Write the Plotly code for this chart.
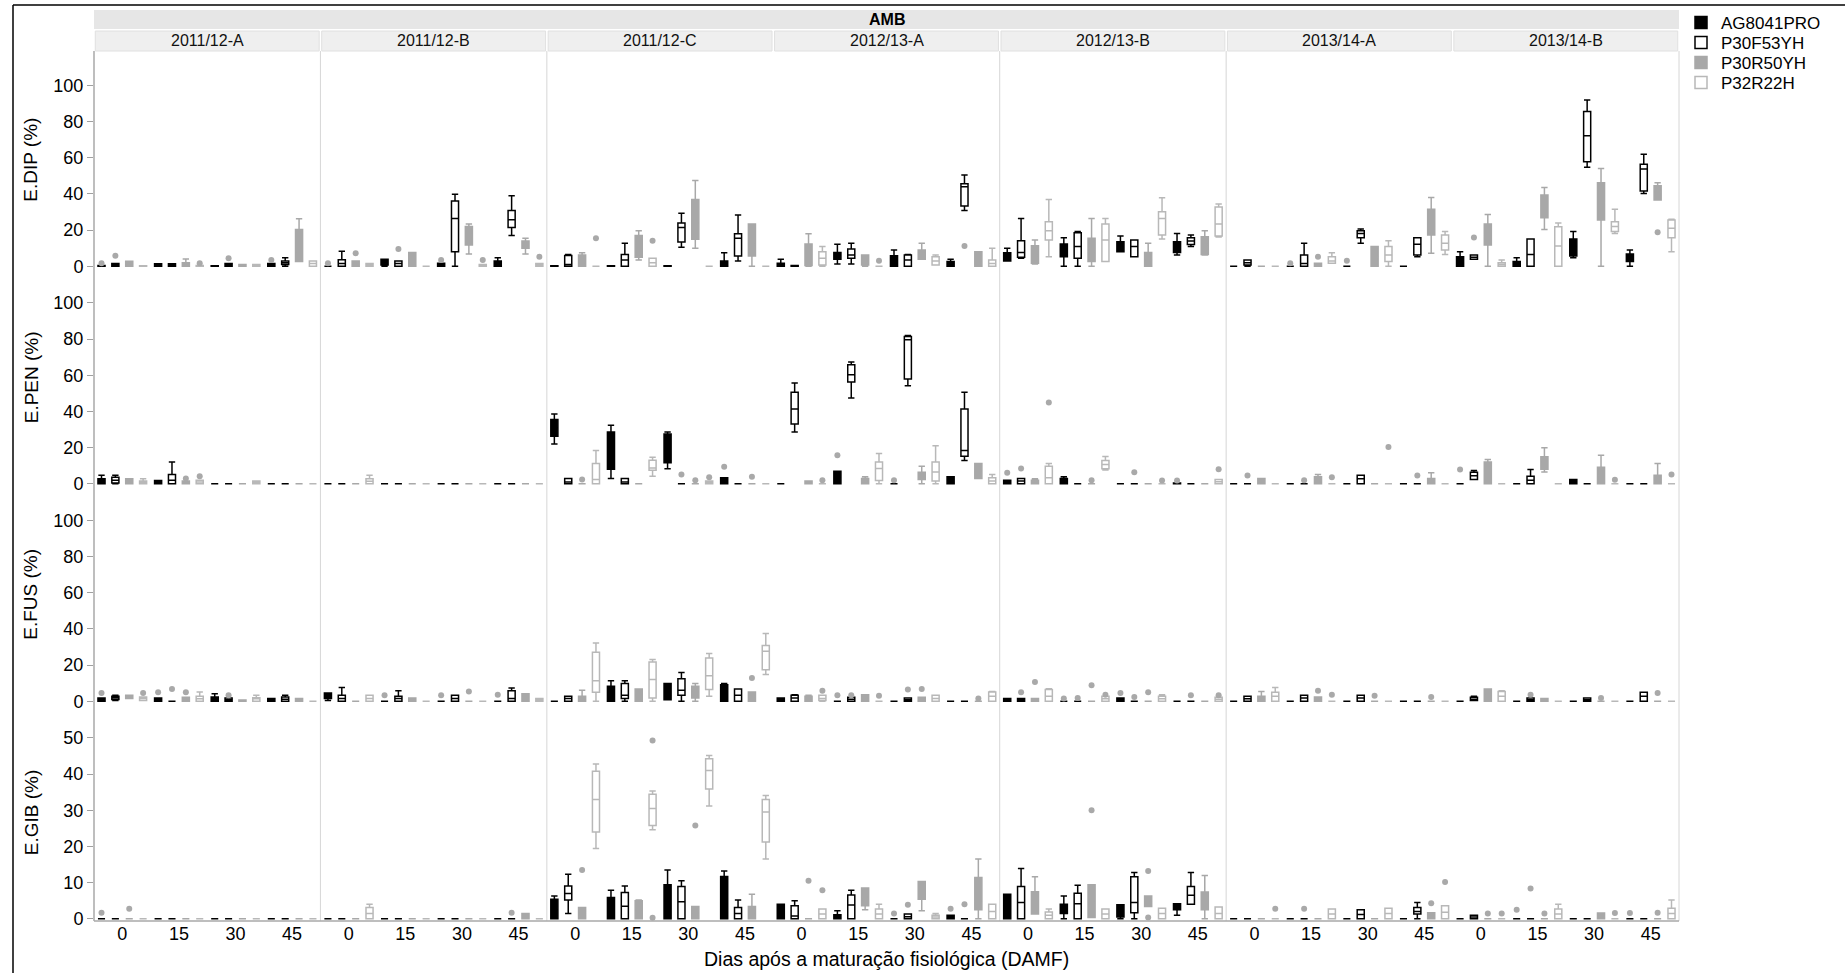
import plotly.graph_objects as go
from plotly.subplots import make_subplots

SEASONS = ["2011/12-A", "2011/12-B", "2011/12-C", "2012/13-A", "2012/13-B", "2013/14-A", "2013/14-B"]
DAYS = ["0", "15", "30", "45"]
GENOTYPES = ["AG8041PRO", "P30F53YH", "P30R50YH", "P32R22H"]
VARIABLES = ["E.DIP (%)", "E.PEN (%)", "E.FUS (%)", "E.GIB (%)"]
Y_TICKS = [[0, 20, 40, 60, 80, 100], [0, 20, 40, 60, 80, 100], [0, 20, 40, 60, 80, 100], [0, 10, 20, 30, 40, 50]]
HEADER = "AMB"
X_TITLE = "Dias após a maturação fisiológica (DAMF)"
Z = (0, 0, 0, 0, 0)

# (lowerfence, q1, median, q3, upperfence) ; 7 seasons x 4 days (0, 15, 30, 45)
DIP_AG8041PRO = [
    (0, 0, 0.2, 0.5, 0.5), (0, 0, 0.7, 1.4, 1.4), (0, 0, 0.1, 0.3, 0.3), (0, 0, 0.7, 1.5, 1.5),
    Z, (0, 0.7, 2, 3.9, 3.9), (0, 0, 0.8, 1.7, 1.7), (0, 0, 1.5, 3, 4.8),
    (0, 0, 0.1, 0.3, 0.3), (0, 0, 0.1, 0.3, 0.3), (0, 0, 0.1, 0.3, 0.3), (0, 0, 1.5, 3, 7.5),
    (0, 0, 0.8, 1.7, 3.9), (1.3, 3.9, 6.3, 7.7, 12.2), (0, 0, 3, 5.9, 9), (0, 0, 1.3, 2.6, 3.9),
    (3, 3, 5, 7.5, 10), (0, 5.3, 9, 12.3, 15.8), (8.1, 8.1, 11, 13.6, 16.8), (6.3, 7.7, 11, 13.6, 18.2),
    Z, Z, Z, Z,
    (0, 0, 2.5, 5.3, 8.1), (0, 0, 1.3, 2.6, 4.8), (4.8, 5.7, 11, 15.1, 19.2), (0, 2.6, 4.5, 6.8, 9),
]
DIP_P30F53YH = [
    (0, 0, 0.7, 1.5, 1.5), (0, 0, 0.7, 1.4, 1.4), (0, 0, 0.7, 1.5, 1.5), (0, 1, 2, 3, 4.8),
    (0, 0, 1.5, 3.7, 8.3), (0, 0, 1.5, 3, 3), (0, 8.1, 26.5, 36.1, 39.8), (17, 21.4, 25.8, 30.9, 39),
    (0, 0, 1, 6, 6.5), (0, 0, 3.5, 6.6, 12.7), (10.5, 13.4, 21.4, 24, 29.3), (3, 5.7, 15.5, 18, 28.4),
    (0, 0, 0.2, 0.5, 0.5), (1.3, 4.4, 6.3, 9.6, 12.7), (0, 0, 3.5, 6.3, 6.6), (30.8, 33.3, 44, 45.7, 50.5),
    (4.4, 5, 7.7, 14.2, 26.5), (0, 4.4, 10.9, 18.6, 19.2), (5.3, 5.3, 10.9, 14.5, 14.5), (10.9, 12.1, 14, 15.8, 17.3),
    (0, 0.7, 2, 3.5, 3.5), (0, 0, 1.5, 6.3, 12.7), (12.7, 15.8, 18.2, 19.7, 20.6), (5.3, 6.3, 12.2, 15.8, 15.8),
    (3.9, 3.9, 5, 6.3, 6.3), (0, 0, 6.6, 15.1, 15.1), (54.7, 57.8, 72.2, 85.5, 91.9), (40.3, 41.6, 53.8, 56.4, 61.9),
]
DIP_P30R50YH = [
    (0, 0, 1.5, 2.8, 2.8), (0, 0, 1, 2, 4), (0, 0, 0.5, 1, 1), (2.6, 2.6, 8, 20.4, 26.3),
    (0, 0, 1.5, 3, 3), (0, 0, 3.8, 7.7, 7.7), (6.8, 11.8, 17, 22, 23.4), (6.8, 10, 12, 14, 15.5),
    (0, 0, 2, 6.3, 7.5), (3.5, 5, 12, 17, 19.7), (10, 15, 24, 37, 47.5), (0, 5.7, 12, 23.4, 23.4),
    (0, 0.5, 6, 12.3, 18), (0, 0.7, 3, 6.3, 6.3), (3.9, 3.9, 7.2, 9, 12.7), (0, 0, 3, 8.1, 8.1),
    (1.3, 1.7, 6, 11.4, 14.5), (0, 2.6, 8, 15.5, 26.5), (0, 0, 3.5, 7.7, 12.7), (6.3, 6.6, 12, 16.4, 19.7),
    Z, (0, 0, 0.8, 1.7, 1.7), (0, 0, 5, 10.9, 10.9), (7.2, 17.3, 24, 31.5, 38),
    (0, 11.8, 17, 23.4, 28.7), (20.4, 26.9, 34, 39.4, 43.6), (0, 25.6, 35, 46.2, 54), (36.6, 36.6, 41, 44.6, 46.2),
]
DIP_P32R22H = [
    (0, 0, 0, 0.3, 0.3), (0, 0, 0.2, 0.5, 0.5), (0, 0, 0.5, 1, 1), (0, 0, 1.5, 3, 3),
    (0, 0, 0.7, 1.5, 1.5), Z, (0, 0, 0.5, 1, 1), (0, 0, 0.7, 1.5, 1.5),
    Z, (0, 0, 2, 4.4, 4.4), Z, Z,
    (0, 0.7, 4.4, 8.1, 10.9), Z, (0.7, 0.7, 3, 5.3, 6.3), (0, 0, 1.5, 3.5, 10),
    (5.3, 14.5, 19.7, 24.7, 37), (2.6, 2.6, 14.5, 23.4, 26.5), (15.1, 17.3, 26.5, 30.2, 37.9), (16.2, 16.8, 23.4, 32.8, 34.4),
    Z, (1.7, 1.7, 3, 5.3, 7.5), (0, 2.6, 6.3, 10.9, 14.2), (6.6, 9, 12.7, 17.3, 19.2),
    (0, 0, 1, 2, 3.5), (0, 0, 11.2, 21.9, 24), (18.2, 19.2, 22, 24.7, 31.5), (8.1, 15.8, 21, 25.6, 26),
]
# outliers: (season index, day index, genotype index, value)
DIP_OUTLIERS = [
    (0, 0, 0, 1.7), (0, 0, 1, 5.9), (0, 1, 3, 1.7), (0, 2, 1, 4.4), (0, 3, 0, 3.5),
    (1, 0, 0, 1.7), (1, 0, 2, 7.2), (1, 1, 1, 9.6), (1, 2, 0, 3.5), (1, 2, 3, 3.5), (1, 3, 3, 5.3),
    (2, 0, 3, 15.5), (2, 1, 3, 14.2),
    (3, 1, 3, 3.1), (3, 3, 1, 11.2),
    (5, 1, 0, 1.7), (5, 1, 2, 5.3), (5, 2, 0, 3.1),
    (6, 0, 1, 16), (6, 3, 2, 18.8),
]

PEN_AG8041PRO = [
    (0, 0, 1.5, 2.8, 4.8), (0, 0, 0.9, 1.8, 1.8), Z, Z,
    Z, Z, Z, Z,
    (22, 26.3, 31, 35.5, 38.6), (2.9, 8.1, 18, 28.7, 32.4), (8.3, 11.6, 18, 27.6, 28.7), (0, 0, 1.6, 3.3, 3.3),
    Z, (0, 0, 3.5, 7, 7), Z, (0, 0, 2, 3.9, 3.9),
    (0, 0, 1, 2, 2), (0, 0, 1.5, 2.9, 3.9), Z, (0, 0, 0, 0.4, 0.4),
    Z, Z, Z, Z,
    Z, Z, (0, 0, 1.2, 2.4, 2.4), Z,
]
PEN_P30F53YH = [
    (0, 0.5, 2, 3.7, 4.8), (0, 0, 2, 5.1, 12.1), Z, Z,
    Z, Z, Z, Z,
    (0, 0, 1, 2.9, 2.9), (0, 0, 1, 2.9, 2.9), Z, Z,
    (28.7, 33.1, 41.4, 50.6, 55.7), (47.4, 56.3, 60.3, 65.8, 67.3), (54.2, 57.9, 79.6, 81.4, 82), (12.9, 15.3, 18.4, 41.4, 50.6),
    (0, 0, 1.5, 2.9, 2.9), Z, Z, Z,
    Z, Z, (0, 0, 2.8, 4.8, 4.8), Z,
    (2.4, 2.4, 4.4, 6.4, 7.4), (0, 0, 2, 4.2, 7.9), Z, Z,
]
PEN_P30R50YH = [
    (0, 0, 1.4, 2.8, 2.8), (0, 0, 0.7, 1.5, 1.5), Z, Z,
    Z, Z, Z, Z,
    Z, Z, Z, Z,
    (0, 0, 0.7, 1.5, 1.5), (0, 0, 1.5, 2.9, 3.9), (0, 2.4, 4, 6.4, 9.7), (2.9, 2.9, 7, 11.2, 11.2),
    (0, 0, 1, 2, 2.8), Z, Z, Z,
    (0, 0, 1.4, 2.9, 2.9), (0, 0, 2, 3.9, 5.1), Z, (0, 0, 1.4, 2.9, 6.1),
    (0, 0, 6, 12, 13.4), (6.6, 8, 12, 15, 20), (0, 0, 4.5, 9.2, 15.8), (0, 0, 2.4, 4.8, 11.2),
]
PEN_P32R22H = [
    (0, 0, 0.7, 1.5, 2.8), (0, 0, 1, 2, 2), (0, 0, 0.7, 1.5, 1.5), Z,
    (0, 0, 1.4, 2.8, 4.8), Z, Z, Z,
    (0, 0, 2.4, 11.2, 18.4), (4.2, 7.5, 8.8, 13, 14.7), (0, 0, 0.7, 1.5, 1.5), Z,
    Z, (0, 1.8, 8.5, 12.1, 16.7), (0, 1.5, 6.6, 12.1, 21), (0, 0, 1.5, 3.3, 5.1),
    (0, 0, 3.3, 9.7, 11.2), (7.7, 8.3, 10.7, 12.9, 15.1), Z, (0, 0, 1.2, 2.4, 2.4),
    Z, Z, Z, Z,
    Z, Z, Z, Z,
]
PEN_OUTLIERS = [
    (0, 1, 2, 2.9), (0, 1, 3, 4.2),
    (2, 0, 2, 2.4), (2, 2, 1, 5.1), (2, 2, 2, 2), (2, 2, 3, 3.7), (2, 3, 0, 9.4), (2, 3, 2, 3.9),
    (3, 0, 3, 2), (3, 1, 0, 15.8), (3, 2, 0, 2),
    (4, 0, 0, 6.1), (4, 0, 1, 8.5), (4, 0, 3, 45), (4, 1, 2, 2), (4, 2, 1, 6.4), (4, 2, 3, 1.8),
    (4, 3, 0, 1.8), (4, 3, 3, 8.1),
    (5, 0, 1, 4.6), (5, 1, 1, 2), (5, 1, 3, 3.7), (5, 2, 3, 20.4), (5, 3, 1, 4.6),
    (6, 0, 0, 7.9), (6, 2, 3, 2.2), (6, 3, 3, 5.1),
]

FUS_AG8041PRO = [
    (0, 0, 0.9, 1.8, 1.8), (0, 0, 0.9, 1.8, 1.8), (0, 0, 1.2, 2.4, 4.2), (0, 0, 0.7, 1.5, 1.5),
    (0.5, 1.5, 3, 4.6, 4.6), Z, Z, Z,
    Z, (0, 0, 4, 8.3, 11.4), (0.9, 0.9, 5, 9.8, 9.8), (0, 0, 4.5, 9.2, 9.8),
    (0, 0, 0.9, 1.8, 1.8), Z, Z, Z,
    (0, 0, 0.7, 1.5, 1.5), Z, (0, 0, 0.9, 1.8, 1.8), Z,
    Z, Z, Z, Z,
    Z, Z, Z, Z,
]
FUS_P30F53YH = [
    (0.5, 1, 2, 2.8, 3.3), Z, (0, 0, 0.9, 1.8, 1.8), (0, 0, 1.2, 2.4, 3.3),
    (0, 0, 1.5, 3.3, 7.7), (0, 0, 1.5, 2.8, 5.9), (0, 0, 1.5, 3.3, 3.3), (0, 0, 1.5, 5.9, 7.4),
    (0, 0, 1.5, 2.8, 2.8), (0, 1.5, 3.3, 9.8, 11.4), (0, 3.3, 6.1, 12.5, 16), (0, 0, 3.3, 6.8, 6.8),
    (0, 0, 1.8, 3.3, 3.7), (0, 0, 1.1, 2.2, 2.2), (0, 0, 0.9, 1.8, 1.8), Z,
    (0, 0, 0.7, 1.5, 1.5), Z, Z, Z,
    (0, 0, 1.4, 2.8, 2.8), (0, 0, 1.8, 3.3, 3.3), (0, 0, 1.8, 3.3, 3.3), Z,
    (0.5, 0.5, 1.2, 2.2, 2.8), (0, 0, 0.9, 1.8, 1.8), (0, 0, 0.9, 1.8, 1.8), (0, 0, 2.8, 5, 5),
]
FUS_P30R50YH = [
    (1.5, 1.5, 2.4, 3.3, 3.3), (0, 0, 1.1, 2.2, 2.2), (0, 0, 0.4, 0.8, 0.8), (0, 0, 0.7, 1.5, 1.5),
    Z, (0, 0, 0.9, 1.8, 1.8), Z, (0, 0, 2, 4.2, 4.2),
    (0, 0, 1.4, 2.8, 6.1), (0, 0, 3.4, 6.8, 6.8), (0, 1.8, 5, 8.3, 9.8), (0, 0, 2.6, 5.2, 5.2),
    (0, 0, 1.4, 2.8, 3.3), (0, 0, 1.8, 3.7, 3.7), (0, 0, 1.1, 2.2, 2.2), Z,
    (0, 0, 0.7, 1.5, 1.5), Z, Z, Z,
    (0, 0, 1.4, 2.8, 5.5), (0, 0, 1.2, 2.4, 2.4), Z, Z,
    (0, 0, 3.4, 6.8, 6.8), (0, 0, 0.7, 1.5, 1.5), Z, Z,
]
FUS_P32R22H = [
    (0.5, 0.5, 1.5, 2.4, 2.4), (0, 0, 1.4, 2.8, 5.2), (0, 0, 1.4, 2, 3.3), Z,
    (0, 0, 1.5, 3.3, 3.3), Z, Z, (0, 0, 0.7, 1.5, 1.5),
    (0, 5, 11.4, 27.1, 32.3), (0, 1.8, 12, 21.8, 23.1), (2.8, 6.5, 14.2, 24, 26.4), (14.8, 17.5, 27.7, 30.8, 37.5),
    (0, 0.5, 1.5, 3.3, 3.3), Z, (0, 0, 1.5, 3.3, 3.3), (0, 0, 2.8, 5.2, 5.5),
    (0, 0, 2.8, 6.5, 6.9), (0, 0, 1.4, 2.8, 2.8), (0, 0, 1.4, 2.8, 3.7), (0, 0, 1.1, 2.2, 2.2),
    (0, 0, 2.8, 5, 7.7), Z, Z, Z,
    (0, 0, 2.8, 5.5, 5.9), Z, Z, Z,
]
FUS_OUTLIERS = [
    (0, 0, 0, 4.6), (0, 0, 3, 4.6), (0, 1, 0, 5), (0, 1, 1, 6.8), (0, 1, 2, 5), (0, 2, 1, 3.3),
    (1, 1, 0, 3.3), (1, 2, 0, 3.3), (1, 2, 2, 5.5), (1, 3, 0, 3.7),
    (2, 3, 2, 12.9),
    (3, 0, 3, 5.9), (3, 1, 0, 3.3), (3, 1, 1, 3.3), (3, 1, 3, 3.1), (3, 2, 1, 6.5), (3, 2, 2, 6.8), (3, 3, 2, 1.5),
    (4, 0, 1, 5), (4, 0, 2, 10.7), (4, 1, 0, 1.5), (4, 1, 1, 1.8), (4, 1, 2, 8.9), (4, 1, 3, 3.7),
    (4, 2, 0, 4.6), (4, 2, 1, 2.4), (4, 2, 2, 5), (4, 3, 1, 3.3), (4, 3, 3, 3.3),
    (5, 1, 2, 5.9), (5, 1, 3, 3.7), (5, 2, 2, 3.1), (5, 3, 2, 2.4),
    (6, 1, 1, 3.7), (6, 2, 2, 1.8), (6, 3, 2, 4.6),
]

GIB_AG8041PRO = [
    Z, Z, Z, Z,
    Z, Z, Z, Z,
    (0, 0, 2.5, 5.4, 6.3), (0, 0, 3, 5.9, 7.9), (0, 0, 5, 9.4, 13.5), (0, 0, 6, 11.7, 13.2),
    (0, 0, 2, 4, 4), (0, 0, 0.5, 1.1, 2.2), Z, (0, 0, 0.5, 1, 1),
    (0, 0, 3.5, 6.8, 6.8), (0, 1.5, 2.5, 4, 6.3), (0, 0.5, 2, 3.9, 3.9), (1, 2.5, 3.5, 4.2, 4.2),
    Z, Z, Z, Z,
    Z, Z, Z, Z,
]
GIB_P30F53YH = [
    Z, Z, Z, Z,
    Z, Z, Z, Z,
    (1.5, 5.2, 7, 9.1, 12.3), (0, 0, 3.5, 7.3, 9.1), (0, 0, 4.7, 8.9, 10.5), (0, 0, 1.5, 3.1, 5.2),
    (0, 0, 0.8, 3.6, 5), (0, 0, 3.8, 6.6, 7.9), (0, 0, 0.6, 1.3, 1.3), Z,
    (0, 0, 4.5, 8.9, 13.9), (0, 0, 4.2, 7.1, 9.3), (0, 1.7, 4.5, 11.6, 12.8), (4, 4, 6.5, 8.9, 12.8),
    Z, Z, (0, 0, 1.2, 2.5, 2.5), (0, 1.3, 2, 3.1, 4.5),
    (0, 0, 0.5, 1, 1), Z, Z, Z,
]
GIB_P30R50YH = [
    Z, Z, Z, Z,
    Z, Z, Z, (0, 0, 0.7, 1.5, 1.5),
    (0, 0, 1.5, 3.1, 3.1), (0, 0, 2.5, 5, 5.2), (0, 0, 1.7, 3.4, 3.4), (0, 0, 1.7, 3.4, 6.8),
    Z, (2.5, 3.6, 6, 8.5, 8.5), (2.2, 5.4, 7.7, 10.3, 10.3), (0, 2.5, 5, 11.4, 16.5),
    (1.3, 1.3, 4, 7.5, 11.6), (0.4, 0.4, 5, 9.4, 9.4), (3.4, 3.4, 4.5, 6.3, 6.3), (0, 2.5, 5, 7.4, 12),
    Z, Z, Z, (0, 0, 0.8, 1.7, 1.7),
    Z, Z, (0, 0, 0.8, 1.6, 1.6), Z,
]
GIB_P32R22H = [
    Z, Z, Z, Z,
    (0, 0, 1.5, 3.1, 4), Z, Z, Z,
    (19.4, 24, 33, 40.8, 42.8), (24.6, 25.8, 30.5, 34.4, 35.3), (31.2, 35.9, 41, 44.2, 45.1), (16.5, 21.2, 29.5, 33, 34.1),
    (0, 0, 1.3, 2.7, 2.7), (0, 0, 1.3, 2.7, 4), (0, 0, 0.5, 1, 1.5), (0, 0, 2, 4, 4),
    (0, 0, 1, 1.9, 2.7), (0, 0, 1.3, 2.7, 2.7), (0, 0, 1.5, 2.9, 2.9), (0, 0, 1.5, 3.3, 3.3),
    Z, (0, 0, 1.3, 2.7, 2.7), (0, 0, 1.5, 2.9, 2.9), (0, 0, 1.8, 3.6, 3.6),
    Z, (0, 0, 1.3, 2.7, 4), Z, (0, 0, 1.5, 2.9, 5.2),
]
GIB_OUTLIERS = [
    (0, 0, 0, 1.7), (0, 0, 2, 2.8),
    (1, 3, 1, 1.7),
    (2, 0, 2, 13.5), (2, 1, 3, 49.3), (2, 1, 3, 0.3), (2, 2, 2, 25.8),
    (3, 0, 2, 10.5), (3, 0, 3, 7.9), (3, 2, 0, 1.5), (3, 2, 1, 3.9), (3, 3, 0, 2.8), (3, 3, 1, 4),
    (4, 1, 2, 30), (4, 2, 2, 13.2), (4, 2, 2, 0.4),
    (5, 0, 3, 2.8), (5, 1, 1, 2.8), (5, 3, 2, 4.3), (5, 3, 3, 10.2),
    (6, 0, 2, 1.5), (6, 0, 3, 1.5), (6, 1, 0, 2.5), (6, 1, 1, 8.4), (6, 1, 2, 1.5), (6, 2, 3, 1.6),
    (6, 3, 0, 1.6), (6, 3, 2, 1.7),
]

ROW_STATS = [
    [DIP_AG8041PRO, DIP_P30F53YH, DIP_P30R50YH, DIP_P32R22H],
    [PEN_AG8041PRO, PEN_P30F53YH, PEN_P30R50YH, PEN_P32R22H],
    [FUS_AG8041PRO, FUS_P30F53YH, FUS_P30R50YH, FUS_P32R22H],
    [GIB_AG8041PRO, GIB_P30F53YH, GIB_P30R50YH, GIB_P32R22H],
]
ROW_OUTLIERS = [DIP_OUTLIERS, PEN_OUTLIERS, FUS_OUTLIERS, GIB_OUTLIERS]
Y_RANGES = [[-1.2, 119], [-1.2, 119], [-1.2, 119], [-0.6, 59.5]]

FONT = "Liberation Sans, Arial, Helvetica, sans-serif"
OUT_COLOR = "#a9a9a9"
STYLES = [
    dict(fillcolor="#000000", line=dict(color="#000000", width=1.5)),
    dict(fillcolor="#ffffff", line=dict(color="#000000", width=1.5)),
    dict(fillcolor="#a8a8a8", line=dict(color="#a8a8a8", width=1.5)),
    dict(fillcolor="#ffffff", line=dict(color="#b8b8b8", width=1.5)),
]
# grouped layout inside each DAMF category (fraction of one category)
SLOT = 0.245
BOX_W = 0.125
OFFSETS = [(g - 1.5) * SLOT for g in range(len(GENOTYPES))]
LEGEND_IDS = ["legend", "legend2", "legend3", "legend4"]

nrows, ncols = len(VARIABLES), len(SEASONS)
fig = make_subplots(rows=nrows, cols=ncols, horizontal_spacing=0, vertical_spacing=0)

for r in range(nrows):
    for c in range(ncols):
        for g in range(len(GENOTYPES)):
            stats = ROW_STATS[r][g][c * 4:(c + 1) * 4]
            fig.add_trace(go.Box(
                x=[d + OFFSETS[g] for d in range(len(DAYS))],
                lowerfence=[s[0] for s in stats],
                q1=[s[1] for s in stats],
                median=[s[2] for s in stats],
                q3=[s[3] for s in stats],
                upperfence=[s[4] for s in stats],
                width=BOX_W,
                boxpoints=False,
                whiskerwidth=0.9,
                name=GENOTYPES[g], legendgroup=GENOTYPES[g], legend=LEGEND_IDS[g],
                showlegend=(r == 0 and c == 0),
                hoverinfo="skip",
                **STYLES[g],
            ), row=r + 1, col=c + 1)
        pts = [(d + OFFSETS[g], v) for (s, d, g, v) in ROW_OUTLIERS[r] if s == c]
        if pts:
            fig.add_trace(go.Scatter(
                x=[p[0] for p in pts], y=[p[1] for p in pts], mode="markers",
                marker=dict(color=OUT_COLOR, size=6, line=dict(width=0)),
                showlegend=False, hoverinfo="skip", cliponaxis=False,
            ), row=r + 1, col=c + 1)

fig.update_xaxes(range=[-0.5, 3.5], tickvals=list(range(len(DAYS))), ticktext=DAYS,
                 showgrid=False, zeroline=False, showline=False, ticks="", showticklabels=False,
                 fixedrange=True)
fig.update_xaxes(showticklabels=True, tickfont=dict(size=18, color="#000"), row=nrows)
for r in range(nrows):
    fig.update_yaxes(range=Y_RANGES[r], row=r + 1)
fig.update_yaxes(showgrid=False, zeroline=False, showline=False, showticklabels=False, ticks="",
                 fixedrange=True)
for r in range(nrows):
    fig.update_yaxes(showticklabels=True, tickvals=Y_TICKS[r], ticks="outside", ticklen=6,
                     tickcolor="#a0a0a0", tickwidth=1, tickfont=dict(size=18, color="#000"),
                     row=r + 1, col=1)

W, H = 1845, 973
ML, MT, PW, PH = 94, 51, 1585, 870
MR, MB = W - ML - PW, H - MT - PH


def px(x):
    return (x - ML) / PW


def py(y):
    return (H - MB - y) / PH


shapes = []
for k in [1, 2, 4, 5]:
    shapes.append(dict(type="line", xref="paper", yref="paper", x0=k / ncols, x1=k / ncols, y0=0, y1=1,
                       line=dict(color="#d6d6d6", width=1)))
shapes.append(dict(type="line", xref="paper", yref="paper", x0=0, x1=0, y0=0, y1=1,
                   line=dict(color="#a8a8a8", width=1.5)))
shapes.append(dict(type="line", xref="paper", yref="paper", x0=1, x1=1, y0=0, y1=1,
                   line=dict(color="#d6d6d6", width=1)))
shapes.append(dict(type="line", xref="paper", yref="paper", x0=0, x1=1, y0=0, y1=0,
                   line=dict(color="#a8a8a8", width=1.5)))
shapes.append(dict(type="rect", xref="paper", yref="paper", x0=0, x1=1, y0=py(29), y1=py(10),
                   fillcolor="#e6e6e6", line=dict(width=0), layer="below"))
for k in range(ncols):
    shapes.append(dict(type="rect", xref="paper", yref="paper", x0=k / ncols + 0.0008,
                       x1=(k + 1) / ncols - 0.0008, y0=1.0, y1=py(31),
                       fillcolor="#efefef", line=dict(color="#e0e0e0", width=1), layer="below"))
shapes.append(dict(type="line", xref="paper", yref="paper", x0=px(13), x1=px(W + 10), y0=py(5), y1=py(5),
                   line=dict(color="#000", width=1.5)))
shapes.append(dict(type="line", xref="paper", yref="paper", x0=px(13), x1=px(13), y0=py(5), y1=py(H + 10),
                   line=dict(color="#000", width=1.5)))

annotations = []
annotations.append(dict(text="<b>" + HEADER + "</b>", xref="paper", yref="paper", x=0.5, y=py(19.5),
                        showarrow=False, font=dict(size=16, color="#000"), xanchor="center", yanchor="middle"))
for k, s in enumerate(SEASONS):
    annotations.append(dict(text=s, xref="paper", yref="paper", x=(k + 0.5) / ncols, y=py(41),
                            showarrow=False, font=dict(size=16, color="#111"), xanchor="center",
                            yanchor="middle"))
for r, v in enumerate(VARIABLES):
    annotations.append(dict(text=v, xref="paper", yref="paper", x=px(31), y=1 - (r + 0.5) / nrows,
                            textangle=-90, showarrow=False, font=dict(size=19, color="#000"),
                            xanchor="center", yanchor="middle"))
annotations.append(dict(text=X_TITLE, xref="paper", yref="paper", x=0.5, y=py(959), showarrow=False,
                        font=dict(size=19.5, color="#000"), xanchor="center", yanchor="middle"))

legend_layout = {}
for g, lid in enumerate(LEGEND_IDS):
    legend_layout[lid] = dict(x=px(1681), y=py(5 + 20 * g), xanchor="left", yanchor="top",
                              font=dict(size=17, color="#000"), bgcolor="rgba(0,0,0,0)")

fig.update_layout(
    width=W, height=H,
    margin=dict(l=ML, r=MR, t=MT, b=MB, autoexpand=False),
    paper_bgcolor="white", plot_bgcolor="white",
    font=dict(family=FONT, color="#000"),
    boxmode="overlay",
    shapes=shapes, annotations=annotations,
    **legend_layout,
)

fig.write_html("out.html", config={"displayModeBar": False},
               post_script="document.body.style.margin='0px';")
